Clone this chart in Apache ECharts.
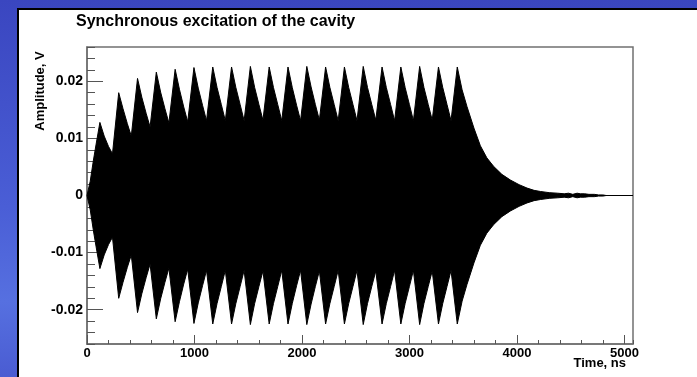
<!DOCTYPE html>
<html>
<head>
<meta charset="utf-8">
<script src="https://cdn.jsdelivr.net/npm/echarts@6/dist/echarts.min.js"></script>
<style>
  html, body { margin: 0; padding: 0; width: 697px; height: 377px; overflow: hidden; }
  #chart { width: 697px; height: 377px; }
</style>
</head>
<body>
<div id="chart"></div>
<script>
// Envelope of the cavity voltage: sample times (ns) and amplitude (V)
const timeNs = [
  0, 30, 60, 85, 120, 160, 200, 237,
  295, 335, 375, 412,
  470, 510, 550, 587,
  645, 685, 725, 762,
  820, 860, 900, 937,
  995, 1035, 1075, 1112,
  1170, 1210, 1250, 1287,
  1345, 1385, 1425, 1462,
  1520, 1560, 1600, 1637,
  1695, 1735, 1775, 1812,
  1870, 1910, 1950, 1987,
  2045, 2085, 2125, 2162,
  2220, 2260, 2300, 2337,
  2395, 2435, 2475, 2512,
  2570, 2610, 2650, 2687,
  2745, 2785, 2825, 2862,
  2920, 2960, 3000, 3037,
  3095, 3135, 3175, 3212,
  3270, 3310, 3350, 3387,
  3445, 3490, 3535, 3600, 3660, 3720, 3783, 3860, 3940, 4020, 4094, 4160, 4220,
  4300, 4380, 4440, 4480, 4520, 4560, 4590, 4630, 4670, 4720, 4760, 4800, 4830, 5080
];
const amplitudeV = [
  0, 0.0025, 0.0062, 0.0090, 0.0128, 0.0104, 0.0086, 0.0073,
  0.0180, 0.0152, 0.0126, 0.0104,
  0.0205, 0.0172, 0.0144, 0.0120,
  0.0216, 0.0181, 0.0152, 0.0127,
  0.0221, 0.0186, 0.0155, 0.0129,
  0.0224, 0.0188, 0.0158, 0.0131,
  0.0225, 0.0189, 0.0159, 0.0131,
  0.0225, 0.0189, 0.0159, 0.0131,
  0.0226, 0.0189, 0.0159, 0.0132,
  0.0225, 0.0189, 0.0159, 0.0131,
  0.0225, 0.0189, 0.0158, 0.0131,
  0.0226, 0.0190, 0.0159, 0.0132,
  0.0225, 0.0189, 0.0159, 0.0131,
  0.0225, 0.0189, 0.0159, 0.0131,
  0.0226, 0.0189, 0.0159, 0.0132,
  0.0225, 0.0189, 0.0159, 0.0131,
  0.0225, 0.0189, 0.0159, 0.0131,
  0.0226, 0.0189, 0.0159, 0.0132,
  0.0225, 0.0189, 0.0159, 0.0131,
  0.0225, 0.0185, 0.0156, 0.0118, 0.0087, 0.0066, 0.0051, 0.0037, 0.0027, 0.0019, 0.0013, 0.0009, 0.0007,
  0.0005, 0.0004, 0.0003, 0.0004, 0.0002, 0.0004, 0.0003, 0.0003, 0.0002, 0.0002, 0.0001, 0.0001, 0, 0
];

const xMajorTicks = [0, 1000, 2000, 3000, 4000, 5000];
const yMajorTicks = [-0.02, -0.01, 0, 0.01, 0.02];
const yTickLabels = ['-0.02', '-0.01', '0', '0.01', '0.02'];

const titleText = 'Synchronous excitation of the cavity';
const xName = 'Time, ns';
const yName = 'Amplitude, V';

const upper = timeNs.map((t, i) => [t, amplitudeV[i]]);
const lower = timeNs.map((t, i) => [t, -amplitudeV[i]]);

const FONT = '"Liberation Sans", Arial, Helvetica, sans-serif';
const FRAME = '#707070';

const chart = echarts.init(document.getElementById('chart'), null, { renderer: 'canvas' });

function yLabel(v) {
  for (let i = 0; i < yMajorTicks.length; i++) {
    if (Math.abs(v - yMajorTicks[i]) < 1e-6) return yTickLabels[i];
  }
  return '';
}
function xLabel(v) {
  for (let i = 0; i < xMajorTicks.length; i++) {
    if (Math.abs(v - xMajorTicks[i]) < 1e-6) return String(xMajorTicks[i]);
  }
  return '';
}

chart.setOption({
  animation: false,
  backgroundColor: {
    type: 'linear', x: 0, y: 0, x2: 0, y2: 1,
    colorStops: [
      { offset: 0, color: '#3a46c0' },
      { offset: 0.55, color: '#4a5ed6' },
      { offset: 0.8, color: '#5670e0' },
      { offset: 1, color: '#4a5cd2' }
    ]
  },
  graphic: [
    { type: 'rect', z: -100, shape: { x: 17, y: 8, width: 690, height: 380 }, style: { fill: '#000' } },
    { type: 'rect', z: -99, shape: { x: 19, y: 10, width: 690, height: 380 }, style: { fill: '#ffffff' } },
    {
      type: 'text', x: 40, y: 91, rotation: Math.PI / 2,
      style: { text: yName, font: 'bold 13px ' + FONT, fill: '#000', align: 'center', verticalAlign: 'middle' }
    },
    {
      type: 'text', x: 626, y: 363,
      style: { text: xName, font: 'bold 13px ' + FONT, fill: '#000', align: 'right', verticalAlign: 'middle' }
    }
  ],
  title: {
    text: titleText,
    left: 71, top: 9,
    textStyle: { fontFamily: FONT, fontWeight: 'bold', fontSize: 16, color: '#000' }
  },
  grid: {
    left: 87, right: 64, top: 47, bottom: 33,
    show: true, borderColor: FRAME, borderWidth: 1.5, backgroundColor: 'transparent'
  },
  xAxis: [
    {
      type: 'value', min: 0, max: 5080, interval: 200, position: 'bottom',
      axisLine: { onZero: false, lineStyle: { color: FRAME, width: 1.5 } },
      axisTick: { inside: true, length: 4, lineStyle: { color: '#555' } },
      axisLabel: { formatter: xLabel, margin: 3, fontFamily: FONT, fontWeight: 'bold', fontSize: 13, color: '#000' },
      splitLine: { show: false }
    },
    {
      type: 'value', min: 0, max: 5080, position: 'bottom',
      axisLine: { show: false, onZero: false },
      axisTick: { inside: true, length: 9, customValues: xMajorTicks, lineStyle: { color: '#555' } },
      axisLabel: { show: false },
      splitLine: { show: false }
    }
  ],
  yAxis: [
    {
      type: 'value', min: -0.026, max: 0.026, interval: 0.002, position: 'left',
      axisLine: { onZero: false, lineStyle: { color: FRAME, width: 1.5 } },
      axisTick: { inside: true, length: 8, lineStyle: { color: '#555' } },
      axisLabel: { formatter: yLabel, margin: 4, fontFamily: FONT, fontWeight: 'bold', fontSize: 14, color: '#000' },
      splitLine: { show: false }
    },
    {
      type: 'value', min: -0.026, max: 0.026, position: 'left', offset: 0,
      axisLine: { show: false, onZero: false },
      axisTick: { inside: true, length: 16, customValues: yMajorTicks, lineStyle: { color: '#555' } },
      axisLabel: { show: false },
      splitLine: { show: false }
    }
  ],
  series: [
    {
      // positive half of the oscillation band; fill reaches just past zero so both halves join
      type: 'line', data: upper, xAxisIndex: 0, yAxisIndex: 0,
      showSymbol: false, symbol: 'none',
      lineStyle: { color: '#000', width: 1 },
      areaStyle: { color: '#000', opacity: 1, origin: -0.0001 }
    },
    {
      // negative half of the oscillation band
      type: 'line', data: lower, xAxisIndex: 0, yAxisIndex: 0,
      showSymbol: false, symbol: 'none',
      lineStyle: { color: '#000', width: 1 },
      areaStyle: { color: '#000', opacity: 1, origin: 0.0001 }
    }
  ]
});
</script>
</body>
</html>
